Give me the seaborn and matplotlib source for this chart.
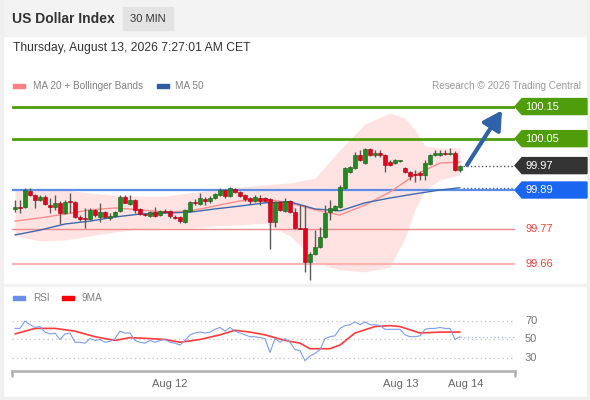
import matplotlib
matplotlib.use("Agg")
import matplotlib.pyplot as plt
import seaborn as sns
from matplotlib.patches import Rectangle, Polygon
from matplotlib.transforms import blended_transform_factory

sns.set_style("white")
plt.rcParams["font.family"] = ["Liberation Sans", "DejaVu Sans"]

# ---------------- data ----------------
opens = [99.831, 99.837, 99.837, 99.887, 99.874, 99.859, 99.868, 99.843, 99.837, 99.850,
         99.818, 99.854, 99.853, 99.806, 99.803, 99.800, 99.828, 99.806, 99.821, 99.803,
         99.809, 99.825, 99.868, 99.846, 99.859, 99.831, 99.815, 99.809, 99.821, 99.812,
         99.826, 99.825, 99.807, 99.806, 99.790, 99.825, 99.853, 99.846, 99.862, 99.856,
         99.865, 99.874, 99.890, 99.871, 99.893, 99.884, 99.874, 99.865, 99.856, 99.865,
         99.865, 99.862, 99.790, 99.853, 99.825, 99.856, 99.821, 99.772, 99.772, 99.666,
         99.691, 99.712, 99.744, 99.821, 99.828, 99.837, 99.896, 99.946, 99.959, 99.999,
         99.974, 100.018, 99.999, 100.005, 99.999, 99.977, 99.974, 99.980, 99.959, 99.946,
         99.940, 99.943, 99.937, 99.971, 99.999, 99.999, 100.005, 100.002, 100.005, 99.952]
highs = [99.859, 99.859, 99.896, 99.896, 99.878, 99.874, 99.874, 99.865, 99.874, 99.856,
         99.859, 99.881, 99.856, 99.812, 99.834, 99.834, 99.831, 99.850, 99.825, 99.818,
         99.825, 99.874, 99.874, 99.874, 99.862, 99.834, 99.818, 99.825, 99.837, 99.828,
         99.831, 99.828, 99.812, 99.809, 99.831, 99.856, 99.862, 99.881, 99.868, 99.871,
         99.881, 99.896, 99.893, 99.899, 99.896, 99.887, 99.878, 99.868, 99.874, 99.874,
         99.868, 99.865, 99.856, 99.856, 99.865, 99.859, 99.834, 99.843, 99.843, 99.697,
         99.765, 99.775, 99.843, 99.859, 99.843, 99.906, 99.962, 99.965, 100.008, 100.015,
         100.021, 100.021, 100.015, 100.015, 100.002, 99.983, 99.987, 99.983, 99.962, 99.949,
         99.952, 99.949, 99.983, 100.002, 100.015, 100.015, 100.015, 100.021, 100.011, 99.968]
lows = [99.821, 99.818, 99.834, 99.871, 99.834, 99.856, 99.843, 99.818, 99.828, 99.784,
        99.815, 99.818, 99.803, 99.793, 99.772, 99.797, 99.806, 99.790, 99.803, 99.797,
        99.806, 99.821, 99.850, 99.843, 99.818, 99.812, 99.809, 99.806, 99.806, 99.809,
        99.818, 99.803, 99.800, 99.787, 99.787, 99.821, 99.843, 99.843, 99.843, 99.850,
        99.862, 99.871, 99.865, 99.868, 99.881, 99.868, 99.856, 99.846, 99.853, 99.843,
        99.853, 99.706, 99.775, 99.825, 99.821, 99.818, 99.769, 99.768, 99.635, 99.610,
        99.688, 99.709, 99.740, 99.797, 99.825, 99.834, 99.893, 99.943, 99.955, 99.980,
        99.971, 99.996, 99.993, 99.993, 99.946, 99.965, 99.971, 99.977, 99.943, 99.921,
        99.915, 99.921, 99.921, 99.968, 99.996, 99.996, 99.999, 99.999, 99.949, 99.946]
closes = [99.837, 99.835, 99.890, 99.874, 99.859, 99.868, 99.846, 99.837, 99.850, 99.818,
          99.853, 99.853, 99.806, 99.800, 99.800, 99.828, 99.812, 99.821, 99.806, 99.809,
          99.821, 99.868, 99.850, 99.859, 99.828, 99.815, 99.812, 99.821, 99.809, 99.825,
          99.821, 99.809, 99.803, 99.793, 99.828, 99.853, 99.850, 99.865, 99.856, 99.865,
          99.878, 99.890, 99.871, 99.896, 99.884, 99.871, 99.862, 99.856, 99.868, 99.856,
          99.856, 99.790, 99.853, 99.828, 99.856, 99.821, 99.772, 99.768, 99.666, 99.691,
          99.712, 99.744, 99.818, 99.834, 99.840, 99.899, 99.959, 99.962, 99.999, 99.983,
          100.018, 99.999, 100.005, 99.999, 99.968, 99.968, 99.983, 99.982, 99.946, 99.934,
          99.937, 99.937, 99.974, 99.999, 100.005, 100.005, 100.002, 100.005, 99.952, 99.966]

ma_idx = [0, 5, 10, 15, 20, 25, 30, 35, 40, 45, 50, 55, 60, 65, 70, 75, 80, 85, 89]
ma20 = [99.793, 99.803, 99.815, 99.828, 99.834, 99.828, 99.821, 99.825, 99.840, 99.856,
        99.862, 99.850, 99.828, 99.812, 99.843, 99.884, 99.937, 99.974, 99.977]
ma50 = [99.750, 99.765, 99.784, 99.793, 99.806, 99.815, 99.818, 99.821, 99.831, 99.840,
        99.850, 99.853, 99.831, 99.825, 99.850, 99.865, 99.878, 99.890, 99.897]

bb_idx = [0, 5, 10, 15, 20, 25, 30, 35, 40, 45, 50, 55, 58, 60, 65, 70, 75, 78, 80, 82, 85, 89]
bb_upper = [99.890, 99.896, 99.890, 99.881, 99.874, 99.871, 99.871, 99.881, 99.890, 99.899,
            99.906, 99.912, 99.921, 99.927, 100.015, 100.096, 100.130, 100.114, 100.077, 100.027,
            100.021, 100.021]
bb_lower = [99.747, 99.731, 99.734, 99.747, 99.759, 99.769, 99.772, 99.772, 99.778, 99.781,
            99.787, 99.747, 99.703, 99.666, 99.641, 99.635, 99.650, 99.740, 99.828, 99.890,
            99.921, 99.937]

levels = [100.15, 100.05, 99.89, 99.77, 99.66]
level_text = ["100.15", "100.05", "99.89", "99.77", "99.66"]
last_text = "99.97"

rsi = [62, 62, 70, 66, 63, 64, 58, 56, 57, 50,
       56, 57, 47, 47, 46, 51, 49, 50, 47, 48,
       51, 59, 57, 57, 49, 47, 46, 49, 47, 49,
       50, 47, 46, 44, 49, 55, 57, 58, 57, 58,
       61, 63, 59, 63, 59, 57, 55, 53, 53, 52,
       51, 36, 51, 47, 51, 47, 39, 38, 27, 32,
       35, 39, 51, 53, 54, 62, 65, 66, 69, 66,
       69, 66, 66, 65, 61, 61, 61, 61, 55, 53,
       53, 54, 61, 62, 62, 63, 62, 62, 50, 53]
ma9_idx = [0, 4, 8, 12, 16, 20, 23, 27, 30, 33, 37, 41, 44, 47, 50, 54, 57, 59, 63, 65,
           68, 72, 75, 77, 81, 85, 89]
ma9 = [56, 62, 62, 59, 53, 49, 52, 51, 50, 47, 50, 55, 60, 58, 55, 49, 46, 40, 40, 44,
       57, 64, 65, 64, 57, 58, 58]
rsi_levels = [70, 50, 30]

date_ticks = [31, 77.2, 90.2]
date_labels = ["Aug 12", "Aug 13", "Aug 14"]

# ---------------- figure ----------------
W, H = 590, 400
fig = plt.figure(figsize=(W / 100, H / 100), dpi=100, facecolor="white")


def fx(px):
    return px / W


def fy(py):
    return 1 - py / H


# background pieces: header band, borders, separator
fig.add_artist(Rectangle((0, fy(36)), 1, 36 / H, transform=fig.transFigure, color="#f3f3f3", zorder=0))
fig.add_artist(Rectangle((0, 0), fx(3), 1, transform=fig.transFigure, color="#f0f0f0", zorder=0))
fig.add_artist(Rectangle((fx(587), 0), fx(3), 1, transform=fig.transFigure, color="#f0f0f0", zorder=0))
fig.add_artist(Rectangle((0, 0), 1, 3 / H, transform=fig.transFigure, color="#f0f0f0", zorder=0))
fig.add_artist(Rectangle((0, fy(286)), 1, 2 / H, transform=fig.transFigure, color="#f2f2f2", zorder=0))
fig.add_artist(Rectangle((fx(123), fy(30)), fx(50), 23 / H, transform=fig.transFigure, color="#e3e3e3", zorder=1))

fig.text(fx(12), fy(19), "US Dollar Index", fontsize=10, fontweight="bold", color="#333333", va="center")
fig.text(fx(148), fy(19), "30 MIN", fontsize=8, color="#333333", va="center", ha="center")
fig.text(fx(13), fy(48), "Thursday, August 13, 2026 7:27:01 AM CET", fontsize=8.75, color="#333333", va="center")

# legends
fig.add_artist(Rectangle((fx(13), fy(88)), fx(12), 4 / H, transform=fig.transFigure, color="#ff8080"))
fig.text(fx(33), fy(86), "MA 20 + Bollinger Bands", fontsize=7.2, color="#808080", va="center")
fig.add_artist(Rectangle((fx(157), fy(88)), fx(12), 4 / H, transform=fig.transFigure, color="#2f5b9e"))
fig.text(fx(175), fy(86), "MA 50", fontsize=7.2, color="#808080", va="center")
fig.text(fx(581), fy(86), "Research \u00a9 2026 Trading Central", fontsize=7.2, color="#9a9a9a",
         va="center", ha="right")

fig.add_artist(Rectangle((fx(13), fy(300)), fx(12), 4 / H, transform=fig.transFigure, color="#6a8ee6"))
fig.text(fx(33), fy(298), "RSI", fontsize=7.2, color="#808080", va="center")
fig.add_artist(Rectangle((fx(62), fy(300)), fx(12), 4 / H, transform=fig.transFigure, color="#ff0000"))
fig.text(fx(82), fy(298), "9MA", fontsize=7.2, color="#808080", va="center")

# ---------------- price panel ----------------
ax = fig.add_axes([fx(12), fy(285), fx(503), 190 / H])
ax.set_xlim(-0.6, 100)
ax.set_ylim(99.594, 100.186)
ax.axis("off")
px = 0.003115  # price per pixel

ax.fill_between(bb_idx, bb_lower, bb_upper, color="#ffe3e3", lw=0, zorder=1)

level_colors = ["#4f9d0b", "#4f9d0b", "#5a8ee8", "#f08a8a", "#ffb3b3"]
level_widths = [2, 2, 1.6, 1, 1.5]
for val, col, lw in zip(levels, level_colors, level_widths):
    ax.axhline(val, color=col, lw=lw, zorder=2)

sns.lineplot(x=ma_idx, y=ma20, ax=ax, color="#ff8c8c", lw=1, zorder=3)
sns.lineplot(x=ma_idx, y=ma50, ax=ax, color="#3d6aad", lw=1, zorder=3)

# candles
for i in range(len(opens)):
    o, h, l, c = opens[i], highs[i], lows[i], closes[i]
    col = "#1f8a1f" if c >= o else "#e3001b"
    edge = "#145c14" if c >= o else "#a00012"
    ax.vlines(i, l, h, color="#5a5a5a", lw=1, zorder=4)
    ax.bar(i, max(abs(c - o), 0.0035), bottom=min(o, c), width=0.7, color=col,
           edgecolor=edge, lw=0.4, zorder=5)

n = len(closes)
ax.plot([n - 0.4, 100], [closes[-1], closes[-1]], ls=":", color="#555555", lw=1, zorder=3)
ax.plot([n - 0.4, 100], [ma50[-1], ma50[-1]], ls=":", color="#3d6aad", lw=1, zorder=3)

ax.annotate("", xy=(97.4, 100.138), xytext=(90.4, 99.968),
            arrowprops=dict(arrowstyle="-|>,head_width=0.45,head_length=0.8", color="#2f62a8",
                            lw=3, mutation_scale=14, shrinkA=0, shrinkB=0), zorder=6)

trans = blended_transform_factory(ax.transAxes, ax.transData)


def tag(y, text, color):
    h = 8 * px
    xs = [1.0, 1.0139, 1.1431, 1.1431, 1.0139]
    ys = [y, y + h, y + h, y - h, y - h]
    ax.add_patch(Polygon(list(zip(xs, ys)), closed=True, transform=trans, color=color, clip_on=False))
    ax.text(1.0199, y, text, transform=trans, color="white", fontsize=8, va="center", ha="left")


tag(levels[0], level_text[0], "#4f9d0b")
tag(levels[1], level_text[1], "#4f9d0b")
tag(closes[-1], last_text, "#333333")
tag(levels[2], level_text[2], "#1a66f0")
for val, txt in zip(levels[3:], level_text[3:]):
    ax.text(1.0199, val, txt, transform=trans, color="#e8443a", fontsize=8, va="center", ha="left")

# ---------------- RSI panel ----------------
ax2 = fig.add_axes([fx(12), fy(371), fx(503), 61 / H])
ax2.set_xlim(-0.6, 100)
ax2.set_ylim(15.9, 81.9)
for v in rsi_levels:
    ax2.axhline(v, color="#c4c4c4", ls=(0, (1, 2.5)), lw=0.9, zorder=1)
    ax2.text(1.0199, v, str(v), transform=ax2.get_yaxis_transform(), fontsize=8, color="#777777", va="center")

sns.lineplot(x=list(range(len(rsi))), y=rsi, ax=ax2, color="#7d9ceb", lw=0.8, zorder=3)
sns.lineplot(x=ma9_idx, y=ma9, ax=ax2, color="#ff3b3b", lw=1.2, zorder=2)
ax2.plot([len(rsi) - 1, 100], [rsi[-1], rsi[-1]], ls=(0, (1, 2)), color="#a8b9ef", lw=0.9)

for s in ["left", "right", "top"]:
    ax2.spines[s].set_visible(False)
ax2.spines["bottom"].set_color("#b0b0b0")
ax2.spines["bottom"].set_linewidth(1.8)
ax2.set_yticks([])
ax2.set_xticks(date_ticks)
ax2.set_xticklabels(date_labels, fontsize=8, color="#666666")
ax2.tick_params(axis="x", length=0, pad=6)
ends = blended_transform_factory(ax2.transData, ax2.transAxes)
for xe in [-0.6, 100]:
    ax2.plot([xe, xe], [0, -0.08], color="#b0b0b0", lw=1.8, transform=ends, clip_on=False)

fig.savefig("out.png", dpi=100, facecolor="white")
